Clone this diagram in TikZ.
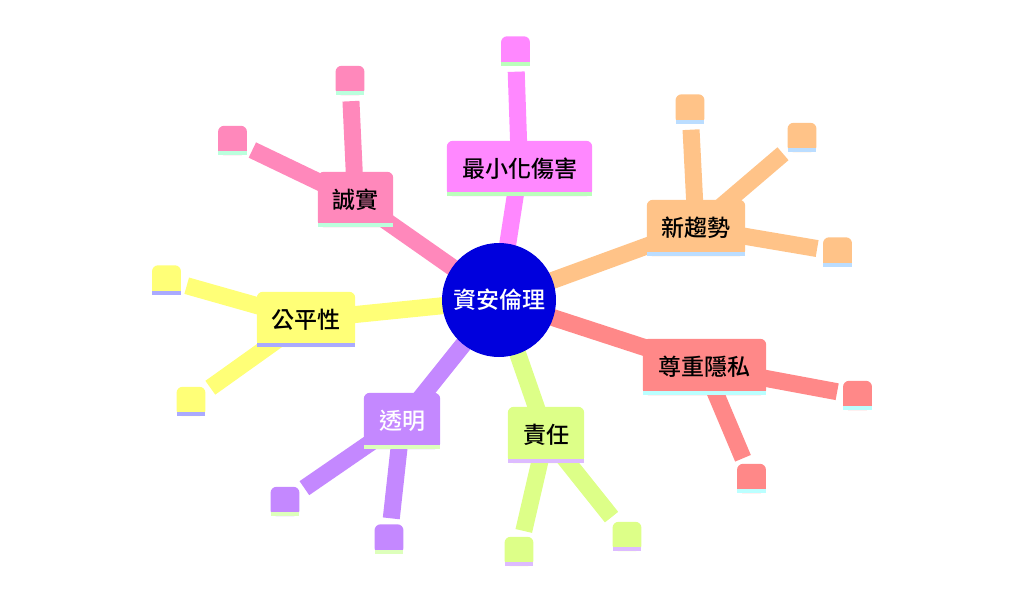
\documentclass[tikz,border=0pt]{standalone}
\usepackage{fontspec}
\newfontfamily\cjk{Noto Sans CJK TC}[UprightFont=* Medium]
\usetikzlibrary{calc}
\pgfdeclarelayer{conn}
\pgfdeclarelayer{bg}
\pgfsetlayers{conn,bg,main}
\definecolor{hub}{HTML}{0000DD}
\definecolor{cA}{HTML}{FF88FF}\definecolor{sA}{HTML}{BBFFBB}
\definecolor{cB}{HTML}{FF88BB}\definecolor{sB}{HTML}{BBFFDD}
\definecolor{cC}{HTML}{FFC388}\definecolor{sC}{HTML}{BBDDFF}
\definecolor{cD}{HTML}{FFFF77}\definecolor{sD}{HTML}{AAAAFF}
\definecolor{cE}{HTML}{FF8888}\definecolor{sE}{HTML}{BBFFFF}
\definecolor{cF}{HTML}{C488FF}\definecolor{sF}{HTML}{DDFFBB}
\definecolor{cG}{HTML}{DDFF88}\definecolor{sG}{HTML}{DDBBFF}
\newcommand\mmshape[3]{%
  \begin{pgfonlayer}{bg}
    \fill[#2, rounded corners=6pt] (#1.south west) rectangle (#1.north east);
    \fill[#2] (#1.south west) rectangle (#1.east);
    \fill[#3] (#1.south west) rectangle ([yshift=4pt]#1.south east);
  \end{pgfonlayer}}
\begin{document}
\begin{tikzpicture}[x=1pt,y=-1pt,
  topic/.style={rectangle, minimum height=55pt, inner sep=0pt, text=black,
    font=\cjk\fontsize{23}{27}\selectfont},
  leaf/.style={rectangle, minimum width=28.5pt, minimum height=29pt, inner sep=0pt},
  link/.style={line width=17pt},
  twig/.style={line width=17pt, shorten >=6pt}]
\useasboundingbox (0,0) rectangle (1024,610);
% hub
\node[circle, fill=hub, minimum size=114pt, inner sep=0pt, text=white,
  font=\cjk\fontsize{23}{27}\selectfont] (hub) at (499,300) {資安倫理};
% topics
\node[topic, minimum width=145pt] (tA) at (519.5,168.5) {最小化傷害}; \mmshape{tA}{cA}{sA}
\node[topic, minimum width=75pt] (tB) at (355.5,199.5) {誠實}; \mmshape{tB}{cB}{sB}
\node[topic, minimum width=98pt, minimum height=56pt] (tC) at (696,228) {新趨勢}; \mmshape{tC}{cC}{sC}
\node[topic, minimum width=98pt] (tD) at (306,319.5) {公平性}; \mmshape{tD}{cD}{sD}
\node[topic, minimum width=123pt, minimum height=56pt] (tE) at (704.5,367) {尊重隱私}; \mmshape{tE}{cE}{sE}
\node[topic, minimum width=76pt, minimum height=56pt, text=white] (tF) at (402,421) {透明}; \mmshape{tF}{cF}{sF}
\node[topic, minimum width=76pt, minimum height=56pt] (tG) at (546,435) {責任}; \mmshape{tG}{cG}{sG}
% leaves
\node[leaf] (lA1) at (515.5,51) {}; \mmshape{lA1}{cA}{sA}
\node[leaf] (lB1) at (350,80.5) {}; \mmshape{lB1}{cB}{sB}
\node[leaf] (lB2) at (232.5,140.5) {}; \mmshape{lB2}{cB}{sB}
\node[leaf] (lC1) at (690,109) {}; \mmshape{lC1}{cC}{sC}
\node[leaf] (lC2) at (802,137.5) {}; \mmshape{lC2}{cC}{sC}
\node[leaf] (lC3) at (837.5,252) {}; \mmshape{lC3}{cC}{sC}
\node[leaf] (lD1) at (166.5,280) {}; \mmshape{lD1}{cD}{sD}
\node[leaf] (lD2) at (191,401.5) {}; \mmshape{lD2}{cD}{sD}
\node[leaf] (lE1) at (857.5,395.5) {}; \mmshape{lE1}{cE}{sE}
\node[leaf] (lE2) at (751.5,478.5) {}; \mmshape{lE2}{cE}{sE}
\node[leaf] (lF1) at (285,501.5) {}; \mmshape{lF1}{cF}{sF}
\node[leaf] (lF2) at (389,539) {}; \mmshape{lF2}{cF}{sF}
\node[leaf] (lG1) at (519,551.5) {}; \mmshape{lG1}{cG}{sG}
\node[leaf] (lG2) at (627,536.5) {}; \mmshape{lG2}{cG}{sG}
% connectors
\begin{pgfonlayer}{conn}
\draw[link, cA] (hub.center) -- (tA.center);
\draw[link, cB] (hub.center) -- (tB.center);
\draw[link, cC] (hub.center) -- (tC.center);
\draw[link, cD] (hub.center) -- (tD.center);
\draw[link, cE] (hub.center) -- (tE.center);
\draw[link, cF] (hub.center) -- (tF.center);
\draw[link, cG] (hub.center) -- (tG.center);
\draw[twig, cA] (tA.center) -- (lA1);
\draw[twig, cB] (tB.center) -- (lB1);
\draw[twig, cB] (tB.center) -- (lB2);
\draw[twig, cC] (tC.center) -- (lC1);
\draw[twig, cC] (tC.center) -- (lC2);
\draw[twig, cC] (tC.center) -- (lC3);
\draw[twig, cD] (tD.center) -- (lD1);
\draw[twig, cD] (tD.center) -- (lD2);
\draw[twig, cE] (tE.center) -- (lE1);
\draw[twig, cE] (tE.center) -- (lE2);
\draw[twig, cF] (tF.center) -- (lF1);
\draw[twig, cF] (tF.center) -- (lF2);
\draw[twig, cG] (tG.center) -- (lG1);
\draw[twig, cG] (tG.center) -- (lG2);
\end{pgfonlayer}
\end{tikzpicture}
\end{document}
